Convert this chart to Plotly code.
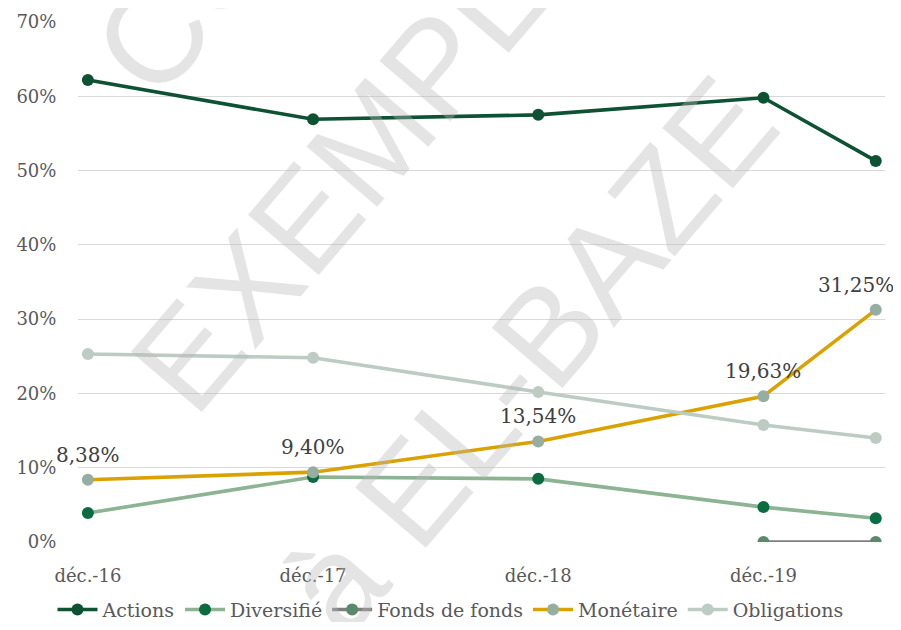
import plotly.graph_objects as go

# ---- data ----
dates = ["2016-12-31", "2017-12-31", "2018-12-31", "2019-12-31", "2020-06-30"]
tick_dates = ["2016-12-31", "2017-12-31", "2018-12-31", "2019-12-31"]
tick_labels = ["déc.-16", "déc.-17", "déc.-18", "déc.-19"]

actions = [62.2, 56.9, 57.5, 59.8, 51.3]
diversifie = [3.9, 8.75, 8.5, 4.7, 3.2]
fonds_de_fonds = [None, None, None, 0.0, 0.0]
monetaire = [8.38, 9.40, 13.54, 19.63, 31.25]
obligations = [25.3, 24.8, 20.2, 15.75, 14.0]

y_ticks = [0, 10, 20, 30, 40, 50, 60, 70]

series = [
    ("Actions", actions, "#0D5232", "#0D5232"),
    ("Diversifié", diversifie, "#8CB392", "#0B6B41"),
    ("Fonds de fonds", fonds_de_fonds, "#7F7F7F", "#5A8A6C"),
    ("Monétaire", monetaire, "#D9A200", "#96ADA1"),
    ("Obligations", obligations, "#BDCCC3", "#BDCCC3"),
]

FONT = "DejaVu Serif"
GRAY = "#595959"

fig = go.Figure()
for name, vals, lc, mc in series:
    fig.add_trace(go.Scatter(
        x=dates, y=vals, name=name, mode="lines+markers",
        line=dict(color=lc, width=3.6),
        marker=dict(color=mc, size=12),
        connectgaps=False,
    ))

annotations = []
# data labels for Monétaire
for i, (d, v) in enumerate(zip(dates, monetaire)):
    annotations.append(dict(
        x=d, y=v, xref="x", yref="y",
        text=f"{v:.2f}".replace(".", ",") + "%",
        showarrow=False, yanchor="bottom", xanchor="center",
        yshift=11, xshift=(-20 if i == len(dates) - 1 else 0),
        font=dict(family=FONT, size=20, color="#404040"),
    ))

# watermark
wm_font = dict(family="Liberation Sans", size=135, color="rgba(185,185,185,0.38)")
for txt, px, py in [("COPIE", 0.223, 1.206), ("EXEMPLAIRE", 0.4475, 0.922), ("à EL-BAZE", 0.56, 0.36)]:
    annotations.append(dict(
        x=px, y=py, xref="paper", yref="paper", text=txt, showarrow=False,
        textangle=-49.5, xanchor="center", yanchor="middle", font=wm_font,
    ))

fig.update_layout(
    width=885, height=614,
    margin=dict(l=70, r=8, t=14, b=80),
    paper_bgcolor="white", plot_bgcolor="white",
    font=dict(family=FONT, size=18, color=GRAY),
    showlegend=True,
    legend=dict(orientation="h", x=0.5, xanchor="center", xref="container",
                y=0.02, yanchor="middle", yref="container",
                font=dict(family=FONT, size=19, color=GRAY),
                itemwidth=40, tracegroupgap=0, traceorder="normal"),
    annotations=annotations,
)
fig.update_xaxes(
    type="date", range=["2016-12-15", "2020-07-15"],
    tickmode="array", tickvals=tick_dates, ticktext=tick_labels,
    showgrid=False, zeroline=False, showline=False,
    ticks="outside", ticklen=17, tickcolor="rgba(0,0,0,0)",
    tickfont=dict(family=FONT, size=18, color=GRAY), automargin=False,
)
fig.update_yaxes(
    range=[0, 70], tickmode="array", tickvals=y_ticks,
    ticktext=[f"{t}%" for t in y_ticks],
    showgrid=True, gridcolor="#D9D9D9", gridwidth=1, zeroline=False, showline=False,
    ticks="outside", ticklen=17, tickcolor="rgba(0,0,0,0)",
    tickfont=dict(family=FONT, size=18, color=GRAY), automargin=False,
)

fig.write_html("out.html")
